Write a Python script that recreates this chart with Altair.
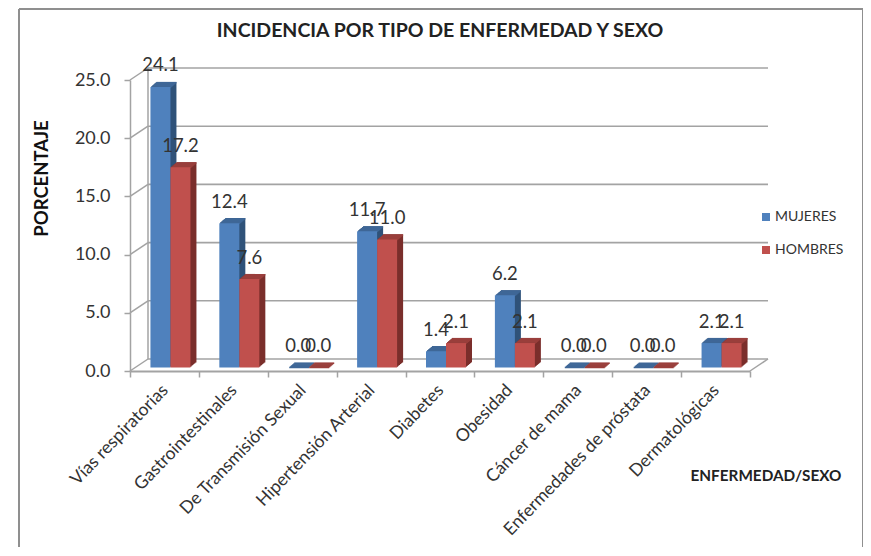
import altair as alt
import pandas as pd

categorias = ["Vías respiratorias", "Gastrointestinales", "De Transmisión Sexual",
              "Hipertensión Arterial", "Diabetes", "Obesidad", "Cáncer de mama",
              "Enfermedades de próstata", "Dermatológicas"]
mujeres = [24.1, 12.4, 0.0, 11.7, 1.4, 6.2, 0.0, 0.0, 2.1]
hombres = [17.2, 7.6, 0.0, 11.0, 2.1, 2.1, 0.0, 0.0, 2.1]
series = ["MUJERES", "HOMBRES"]
colores = ["#4f81bd", "#c0504d"]
lados = ["#2f5279", "#7a2e2b"]
techos = ["#3f6797", "#9a3f3c"]
marcas_y = [0, 5, 10, 15, 20, 25]

FONT = "Lato"
W, H = 620, 291
DX, DY = 18, -12
GRID = "#a3a3a3"
TEXT = "#333333"
BAR_W = 20
BAR_X, BAR_Y = 6, -3.5
POS = {"MUJERES": -BAR_W / 2 + BAR_X, "HOMBRES": BAR_W / 2 + BAR_X}

df = pd.DataFrame(
    [{"cat": c, "serie": series[0], "valor": v} for c, v in zip(categorias, mujeres)]
    + [{"cat": c, "serie": series[1], "valor": v} for c, v in zip(categorias, hombres)]
)
ticks = pd.DataFrame({"v": marcas_y})

xs = alt.X("cat:N", sort=categorias,
           scale=alt.Scale(paddingInner=0, paddingOuter=0),
           axis=alt.Axis(title="ENFERMEDAD/SEXO", titleFont=FONT, titleFontSize=15.3,
                         titleFontWeight="bold", titleColor="#222222",
                         titleX=635.5, titleY=97, titleAnchor="middle", titleAlign="center",
                         labelFont=FONT, labelFontSize=17.6, labelColor=TEXT, labelAngle=-46,
                         labelAlign="right", labelBaseline="top", labelOverlap=False,
                         labelLimit=400, labelPadding=4, labelOffset=-6, tickBand="extent", tickSize=6,
                         tickColor=GRID, tickWidth=1.5, domainColor=GRID, domainWidth=2, grid=False))
eje_y = alt.Axis(title="PORCENTAJE", titleFont=FONT, titleFontSize=18.5,
                 titleFontWeight="bold", titleColor="#111111", titleX=-79, titleY=98,
                 titleAnchor="middle", values=marcas_y, format=".1f",
                 labelFont=FONT, labelFontSize=18, labelColor=TEXT, labelPadding=14,
                 tickSize=6, tickColor=GRID, tickWidth=1.5, domainColor=GRID,
                 domainWidth=1.5, grid=False)
escala_y = alt.Scale(domain=[0, 25], nice=False)
ys = alt.Y("valor:Q", scale=escala_y, axis=eje_y)
y_sin = alt.Y("v:Q", scale=escala_y, axis=eje_y)

capas = []
# paredes
capas.append(alt.Chart(ticks).mark_rule(color=GRID, strokeWidth=1.6, yOffset=DY)
             .encode(x=alt.value(DX), x2=alt.value(W + DX), y=y_sin))
capas.append(alt.Chart(ticks).mark_rule(color=GRID, strokeWidth=1.5, y2Offset=DY)
             .encode(x=alt.value(0), x2=alt.value(DX), y=y_sin, y2="v:Q"))
capas.append(alt.Chart(ticks.head(1)).mark_rule(color=GRID, strokeWidth=1.5, y2Offset=DY)
             .encode(x=alt.value(W), x2=alt.value(W + DX), y=y_sin, y2="v:Q"))
capas.append(alt.Chart(ticks.head(1)).mark_rule(color=GRID, strokeWidth=1.5, yOffset=DY, y2Offset=DY)
             .encode(x=alt.value(DX), y=y_sin, y2=alt.datum(25)))
# marco
MARCO = "#8f8f8f"
capas.append(alt.Chart(ticks.head(1)).mark_rule(color=MARCO, strokeWidth=2)
             .encode(x=alt.value(-111), y=alt.value(-71), y2=alt.value(H + 176)))
capas.append(alt.Chart(ticks.head(1)).mark_rule(color=MARCO, strokeWidth=2)
             .encode(x=alt.value(733), y=alt.value(-71), y2=alt.value(H + 176)))
capas.append(alt.Chart(ticks.head(1)).mark_rule(color=MARCO, strokeWidth=2)
             .encode(x=alt.value(-111), x2=alt.value(733), y=alt.value(-71)))

# volumen 3D de las barras
for s, lado, techo in zip(series, lados, techos):
    d_s = df[df["serie"] == s]
    for d in range(1, 7):
        off = BAR_Y - 0.85 * d
        capas.append(alt.Chart(d_s).mark_bar(color=lado, size=BAR_W, xOffset=POS[s] + d,
                                             yOffset=off, y2Offset=off)
                     .encode(x=xs, y=ys, y2=alt.datum(0)))
    for d in range(1, 7):
        off = BAR_Y - 0.85 * d
        capas.append(alt.Chart(d_s).mark_bar(color=techo, size=BAR_W, xOffset=POS[s] + d,
                                             yOffset=off, y2Offset=off + 1.6)
                     .encode(x=xs, y=ys, y2="valor:Q"))

color = alt.Color("serie:N", sort=series, scale=alt.Scale(domain=series, range=colores),
                  legend=alt.Legend(title=None, orient="none", legendX=629, legendY=130,
                                    symbolType="square", symbolSize=64, symbolStrokeWidth=0,
                                    labelFont=FONT, labelFontSize=14, labelColor=TEXT,
                                    rowPadding=19, labelOffset=2))
for s in series:
    d_s = df[df["serie"] == s]
    capas.append(alt.Chart(d_s).mark_bar(size=BAR_W, xOffset=POS[s], yOffset=BAR_Y, y2Offset=BAR_Y)
                 .encode(x=xs, y=ys, y2=alt.datum(0), color=color))
for s in series:
    d_s = df[df["serie"] == s]
    capas.append(alt.Chart(d_s).mark_text(font=FONT, fontSize=18.5, color=TEXT, dx=POS[s], dy=-19,
                                          baseline="alphabetic", align="center")
                 .encode(x=xs, y=ys, text=alt.Text("valor:Q", format=".1f")))

chart = alt.layer(*capas).properties(
    width=W, height=H,
    background="white",
    padding={"left": 122, "top": 72, "right": 113, "bottom": 177},
    autosize=alt.AutoSizeParams(type="none"),
    title=alt.TitleParams("INCIDENCIA POR TIPO DE ENFERMEDAD Y SEXO", anchor="middle",
                          frame="group", font=FONT, fontSize=19.5, fontWeight="bold",
                          color="#222222", offset=0, dy=33),
).configure_view(stroke=None)

chart.save("out.html", embed_options={"renderer": "svg", "actions": False})
